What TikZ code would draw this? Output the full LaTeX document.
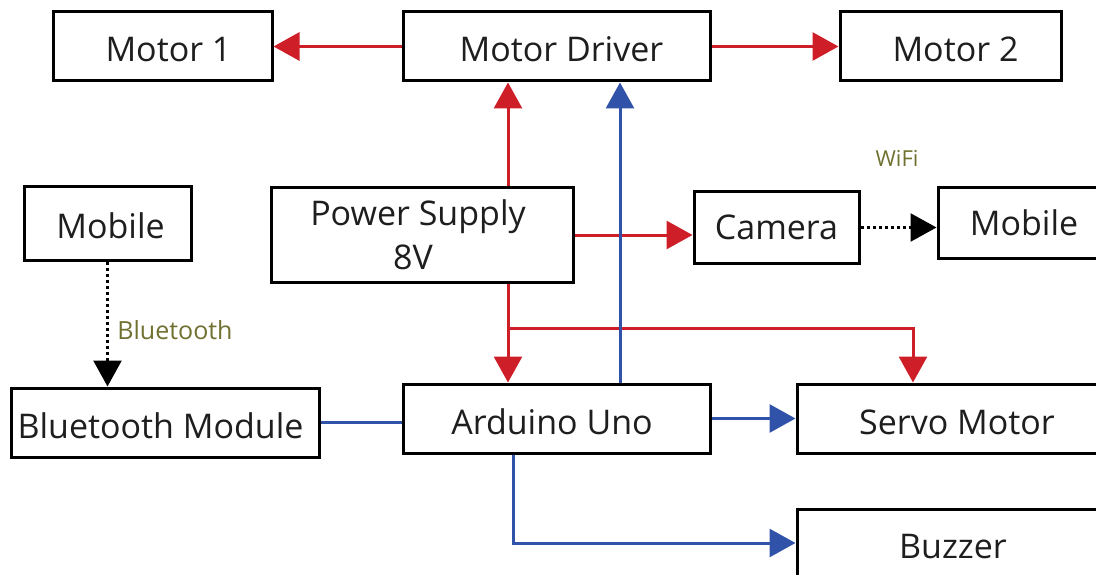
\documentclass[tikz,border=0pt]{standalone}
\usepackage{fontspec}
\setmainfont{Open Sans}
\usetikzlibrary{arrows.meta}
\definecolor{cred}{RGB}{206,30,40}
\definecolor{cblue}{RGB}{48,82,168}
\definecolor{colive}{RGB}{112,112,48}
\definecolor{ctext}{RGB}{30,30,30}
\newcommand{\shr}[2]{\hspace*{#1pt}#2}
\newcommand{\shl}[2]{#2\hspace*{#1pt}}
\begin{document}
\begin{tikzpicture}[x=1pt,y=-1pt,
  box/.style={draw=black,line width=3pt,inner sep=0pt,align=center,
    font=\fontsize{34}{44}\selectfont,text=ctext},
  one/.style={text height=31pt,text depth=0pt},
  tip/.style={-{Triangle[length=26pt,width=28pt]}},
  rline/.style={draw=cred,line width=3pt},
  bline/.style={draw=cblue,line width=3pt},
  dline/.style={draw=black,line width=2.5pt,dash pattern=on 3pt off 3pt},
  lbl/.style={text=colive,inner sep=0pt}]
\useasboundingbox (0,0) rectangle (1096,575);
\clip (0,0) rectangle (1096,575);
% boxes
\node[box,one,minimum width=219pt,minimum height=69pt] (m1) at (162.5,46.5) {\shr{12}{Motor 1}};
\node[box,one,minimum width=307pt,minimum height=69pt] (md) at (556.5,46.5) {\shr{10}{Motor Driver}};
\node[box,one,minimum width=221pt,minimum height=69pt] (m2) at (950.5,46.5) {\shr{10}{Motor 2}};
\node[box,one,minimum width=167pt,minimum height=73pt] (mobL) at (107.5,223.5) {\shr{6}{Mobile}};
\node[box,minimum width=302pt,minimum height=94pt] (ps) at (422,235) {\shl{8}{Power Supply}\\\shl{18}{8V}};
\node[box,minimum width=165pt,minimum height=71pt] (cam) at (776.5,227.5) {Camera};
\node[box,minimum width=172pt,minimum height=70pt] (mobR) at (1024,223) {Mobile};
\node[box,one,minimum width=308pt,minimum height=69pt] (bt) at (165,422.5) {\shl{9}{Bluetooth Module}};
\node[box,one,minimum width=307pt,minimum height=69pt] (ard) at (556.5,418.5) {\shl{9}{Arduino Uno}};
\node[box,one,minimum width=320pt,minimum height=69pt] (servo) at (957,418.5) {Servo Motor};
\node[box,one,minimum width=312pt,minimum height=68pt] (buz) at (953,543) {Buzzer};
% labels
\node[lbl,font=\fontsize{25}{30}\selectfont] (btl) at (175,330) {Bluetooth};
\node[lbl,font=\fontsize{22}{26}\selectfont] (wifi) at (897,158) {WiFi};
% helper coordinates
\coordinate (px) at (508,0);
\coordinate (sx) at (913,0);
\coordinate (jy) at (0,328);
\coordinate (bx) at (620,0);
\coordinate (ux) at (513,0);
% red power lines
\draw[rline,tip] (md.west) -- (m1.east);
\draw[rline,tip] (md.east) -- (m2.west);
\draw[rline,tip] (ps.north -| px) -- (md.south -| px);
\draw[rline,tip] (ps.south -| px) -- (ard.north -| px);
\draw[rline,tip] (px |- jy) -- (sx |- jy) -- (servo.north -| sx);
\draw[rline,tip] (ps.east) -- (cam.west |- ps.east);
% blue signal lines
\draw[bline,tip] (ard.north -| bx) -- (md.south -| bx);
\draw[bline] (bt.east) -- (ard.west |- bt.east);
\draw[bline,tip] (ard.east) -- (servo.west |- ard.east);
\draw[bline,tip] (ard.south -| ux) |- (buz.west);
% wireless links
\draw[dline,tip] (cam.east) -- (mobR.west |- cam.east);
\draw[dline,tip] (mobL.south) -- (bt.north -| mobL.south);
\end{tikzpicture}
\end{document}
